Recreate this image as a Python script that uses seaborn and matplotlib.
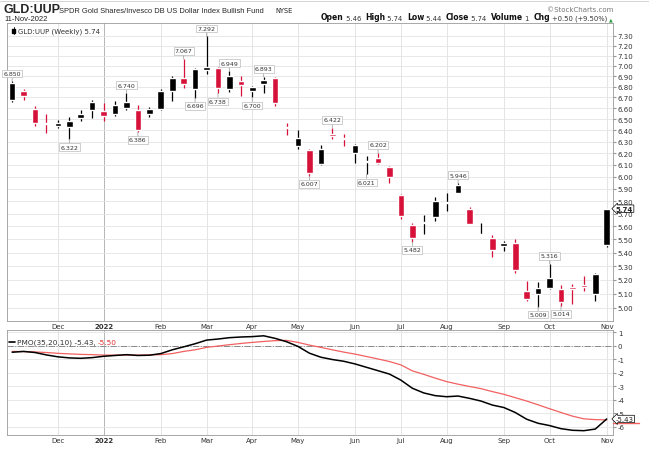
import numpy as np
import pandas as pd
import matplotlib
matplotlib.use('Agg')
import matplotlib.pyplot as plt
import matplotlib.transforms as mtransforms
import seaborn as sns
from matplotlib.ticker import FixedLocator, NullLocator, FuncFormatter

# weekly GLD:UUP ratio, Nov 2021 - Nov 2022
weeks = pd.date_range('2021-11-08', periods=53, freq='W-MON')

opens = [6.68, 6.76, 6.59, 6.465, 6.44, 6.43, 6.51, 6.58, 6.57, 6.55,
         6.60, 6.58, 6.55, 6.59, 6.76, 6.88, 6.78, 6.96, 6.98, 6.78,
         6.85, 6.76, 6.83, 6.88, 6.425, 6.26, 6.23, 6.11, 6.37, 6.325,
         6.20, 6.125, 6.16, 6.08, 5.85, 5.61, 5.625, 5.67, 5.785, 5.87,
         5.74, 5.535, 5.51, 5.45, 5.47, 5.12, 5.10, 5.14, 5.13, 5.15,
         5.16, 5.10, 5.46]
highs = [6.850, 6.78, 6.62, 6.55, 6.49, 6.52, 6.58, 6.68, 6.65, 6.67,
         6.740, 6.63, 6.61, 6.78, 6.90, 7.067, 6.98, 7.292, 6.99, 6.949,
         6.90, 6.81, 6.893, 6.89, 6.47, 6.40, 6.24, 6.27, 6.422, 6.37,
         6.28, 6.18, 6.202, 6.09, 5.86, 5.63, 5.69, 5.83, 5.87, 5.946,
         5.75, 5.63, 5.53, 5.49, 5.50, 5.19, 5.18, 5.316, 5.16, 5.17,
         5.23, 5.25, 5.74]
lows = [6.66, 6.68, 6.44, 6.38, 6.42, 6.322, 6.48, 6.51, 6.48, 6.53,
        6.58, 6.386, 6.52, 6.58, 6.67, 6.79, 6.696, 6.92, 6.738, 6.75,
        6.71, 6.700, 6.74, 6.62, 6.36, 6.24, 6.007, 6.10, 6.32, 6.26,
        6.12, 6.021, 6.11, 5.95, 5.66, 5.482, 5.54, 5.64, 5.72, 5.865,
        5.62, 5.53, 5.37, 5.41, 5.25, 5.05, 5.009, 5.13, 5.014, 5.03,
        5.12, 5.05, 5.44]
closes = [6.84, 6.71, 6.47, 6.455, 6.47, 6.48, 6.55, 6.66, 6.53, 6.63,
          6.66, 6.40, 6.59, 6.76, 6.88, 6.83, 6.97, 6.99, 6.79, 6.90,
          6.82, 6.80, 6.86, 6.65, 6.42, 6.33, 6.03, 6.24, 6.35, 6.32,
          6.27, 6.13, 6.12, 6.00, 5.68, 5.51, 5.63, 5.80, 5.79, 5.93,
          5.62, 5.54, 5.42, 5.47, 5.27, 5.06, 5.14, 5.21, 5.04, 5.13,
          5.145, 5.24, 5.74]

# PMO(35,20,10) and its signal line
pmo = [-0.48, -0.42, -0.50, -0.68, -0.82, -0.90, -0.93, -0.88, -0.78, -0.72,
       -0.66, -0.72, -0.70, -0.58, -0.30, -0.08, 0.15, 0.42, 0.50, 0.60,
       0.65, 0.68, 0.74, 0.55, 0.30, -0.05, -0.55, -0.85, -1.02, -1.15,
       -1.35, -1.60, -1.85, -2.10, -2.55, -3.15, -3.50, -3.70, -3.78, -3.73,
       -3.90, -4.10, -4.40, -4.58, -4.95, -5.45, -5.75, -5.92, -6.15, -6.27,
       -6.30, -6.18, -5.43]
signal = [-0.42, -0.43, -0.46, -0.50, -0.56, -0.60, -0.64, -0.66, -0.69, -0.69,
          -0.69, -0.69, -0.68, -0.66, -0.58, -0.42, -0.30, -0.12, -0.02, 0.08,
          0.17, 0.25, 0.32, 0.38, 0.40, 0.25, 0.05, -0.12, -0.30, -0.47,
          -0.62, -0.80, -0.98, -1.17, -1.42, -1.86, -2.12, -2.40, -2.66, -2.85,
          -3.02, -3.18, -3.40, -3.60, -3.85, -4.10, -4.38, -4.67, -4.95, -5.22,
          -5.42, -5.48, -5.50]

high_marks = [0, 10, 15, 17, 19, 22, 28, 32, 39, 47]
low_marks = [5, 11, 16, 18, 21, 26, 31, 35, 46, 48]
price_ticks = [round(5.0 + 0.1 * k, 2) for k in range(24)]
pmo_ticks = [1, 0, -1, -2, -3, -4, -5, -6]

RED = '#d7123a'
SIG = '#f26060'
GRID = '#e4e4e4'
TXT = '#333333'

sns.set_style('white')
plt.rcParams['font.family'] = ['DejaVu Sans']

df = pd.DataFrame({'week': weeks, 'open': opens, 'high': highs, 'low': lows,
                   'close': closes, 'pmo': pmo, 'signal': signal})
df['idx'] = np.arange(len(df))
df['color'] = np.where(df['close'] >= df['open'], 'black', RED)

# month boundaries -> gridlines and labels
month_pos, month_lab = [], []
for i in range(1, len(df)):
    w = df['week'][i]
    if w.month != df['week'][i - 1].month:
        month_pos.append(i)
        month_lab.append('2022' if w.month == 1 else w.strftime('%b'))

W, H = 649, 452
fig = plt.figure(figsize=(W / 100, H / 100), dpi=100)
L, R = 7, 613
ax1 = fig.add_axes([L / W, 1 - 322 / H, (R - L) / W, (322 - 24) / H])
ax2 = fig.add_axes([L / W, 1 - 436 / H, (R - L) / W, (436 - 331) / H])

for ax in (ax1, ax2):
    ax.set_xlim(-0.45, 52.55)
    for p, lab in zip(month_pos, month_lab):
        ax.axvline(p, color='#b5b5b5' if lab == '2022' else GRID, lw=0.7, zorder=0)
    ax.set_xticks(month_pos)
    ax.set_xticklabels(month_lab)
    for t in ax.get_xticklabels():
        if t.get_text() == '2022':
            t.set_fontweight('bold')
    ax.xaxis.set_minor_locator(FixedLocator(df['idx']))
    ax.tick_params(axis='x', which='major', length=0, pad=1.5, labelsize=5, labelcolor=TXT)
    ax.tick_params(axis='x', which='minor', length=1.5, direction='in', color='#999999')
    ax.yaxis.tick_right()
    ax.tick_params(axis='y', length=2, pad=1.5, labelsize=5, labelcolor=TXT, color='#999999')
    for s in ax.spines.values():
        s.set_color('#9a9a9a')
        s.set_linewidth(0.6)

# ---- price panel (candles)
ax1.set_yscale('log')
ax1.set_ylim(4.91, 7.43)
ax1.yaxis.set_major_locator(FixedLocator(price_ticks))
ax1.yaxis.set_minor_locator(NullLocator())
ax1.yaxis.set_major_formatter(FuncFormatter(lambda v, p: f'{v:.2f}'))
for v in price_ticks:
    ax1.axhline(v, color=GRID, lw=0.6, zorder=0)

ax1.vlines(df['idx'], df['low'], df['high'], colors=df['color'], lw=0.9, zorder=2)
body_lo = np.minimum(df['open'], df['close'])
body_h = np.maximum(np.abs(df['close'] - df['open']), 0.008)
ax1.bar(df['idx'], body_h, bottom=body_lo, width=0.58, color=df['color'], zorder=3)

box = dict(boxstyle='square,pad=0.2', fc='white', ec='#bbbbbb', lw=0.5)
arr = dict(arrowstyle='-', color='#999999', lw=0.5, shrinkA=0, shrinkB=0)
for i in high_marks:
    ax1.annotate(f'{highs[i]:.3f}', xy=(i, highs[i]), xytext=(0, 4), textcoords='offset points',
                 ha='center', va='bottom', fontsize=4.5, color=TXT, bbox=box, arrowprops=arr, zorder=5)
for i in low_marks:
    ax1.annotate(f'{lows[i]:.3f}', xy=(i, lows[i]), xytext=(0, -4), textcoords='offset points',
                 ha='center', va='top', fontsize=4.5, color=TXT, bbox=box, arrowprops=arr, zorder=5)

ax1.annotate(f'{closes[-1]:.2f}', xy=(1, closes[-1]), xycoords=('axes fraction', 'data'),
             xytext=(2, 0), textcoords='offset points', ha='left', va='center', fontsize=5,
             fontweight='bold', bbox=dict(boxstyle='larrow,pad=0.1', fc='white', ec='black', lw=0.5),
             annotation_clip=False, zorder=6)

ax1.plot([0.011, 0.011], [0.963, 0.985], transform=ax1.transAxes, color='black', lw=0.6)
ax1.add_patch(plt.Rectangle((0.008, 0.967), 0.006, 0.013, transform=ax1.transAxes, color='black'))
ax1.text(0.018, 0.975, f'GLD:UUP (Weekly) {closes[-1]:.2f}', transform=ax1.transAxes,
         fontsize=5, color=TXT, va='center', ha='left')

# ---- PMO panel
ax2.set_ylim(-6.62, 1.17)
ax2.set_yticks(pmo_ticks)
ax2.set_yticklabels([str(v) for v in pmo_ticks])
for v in pmo_ticks:
    ax2.axhline(v, color=GRID, lw=0.6, zorder=0)
ax2.axhline(0, color='#8a8a8a', lw=0.7, ls='-.', zorder=1)
sns.lineplot(data=df, x='idx', y='signal', ax=ax2, color=SIG, lw=0.9, zorder=3)
sns.lineplot(data=df, x='idx', y='pmo', ax=ax2, color='black', lw=1.1, zorder=4)
ax2.set_xlabel('')
ax2.set_ylabel('')

# signal value tag peeks out under the PMO tag as a red underline
blend = mtransforms.blended_transform_factory(ax2.transAxes, ax2.transData)
ax2.plot([1.0, 1.043], [signal[-1] - 0.22, signal[-1] - 0.22], transform=blend,
         color=SIG, lw=1.0, clip_on=False, zorder=5)
ax2.annotate(f'{pmo[-1]:.2f}', xy=(1, pmo[-1]), xycoords=('axes fraction', 'data'),
             xytext=(2, 0), textcoords='offset points', ha='left', va='center', fontsize=5,
             bbox=dict(boxstyle='larrow,pad=0.1', fc='white', ec='black', lw=0.5),
             annotation_clip=False, zorder=6)

ax2.plot([0.003, 0.013], [0.89, 0.89], transform=ax2.transAxes, color='black', lw=1.2)
t = ax2.text(0.016, 0.89, f'PMO(35,20,10) {pmo[-1]:.2f}, ', transform=ax2.transAxes,
             fontsize=5.3, color=TXT, va='center', ha='left')
ax2.annotate(f'{signal[-1]:.2f}', xy=(1, 0), xycoords=t, ha='left', va='bottom',
             fontsize=5.3, color='#e03030')

# ---- header
hdr = fig.add_axes([0, 0, 1, 1], zorder=-1)
hdr.axis('off')
hdr.set_xlim(0, W)
hdr.set_ylim(H, 0)
hdr.axhline(2, xmin=0, xmax=1, color='#cccccc', lw=0.6)
narrow = ['Liberation Sans Narrow', 'Liberation Sans', 'DejaVu Sans']
hdr.text(4, 13, 'GLD:UUP', fontsize=9, fontweight='bold', family=narrow, va='baseline')
hdr.text(59, 13, 'SPDR Gold Shares/Invesco DB US Dollar Index Bullish Fund', fontsize=5.4,
         family=narrow, va='baseline')
hdr.text(275, 13, 'NYSE', fontsize=4.8, va='baseline', color='#222222')
hdr.text(4, 21, '11-Nov-2022', fontsize=5.5, family=['Liberation Sans'], va='baseline', color='#222222')
hdr.text(613, 12, '\u00a9StockCharts.com', fontsize=5, ha='right', va='baseline', color='#777777')

pieces = [('Open', True), (' 5.46  ', False), ('High', True), (' 5.74  ', False),
          ('Low', True), (' 5.44  ', False), ('Close', True), (' 5.74  ', False),
          ('Volume', True), (' 1  ', False), ('Chg', True), (' +0.50 (+9.50%) ', False)]
t = hdr.text(613, 21, '\u25b2', fontsize=3.5, color='#2e9e3e', ha='right', va='baseline')
for s, bold in reversed(pieces):
    t = hdr.annotate(s, xy=(0, 0), xycoords=t, ha='right', va='bottom',
                     fontsize=5.5 if bold else 4.9, fontweight='bold' if bold else 'normal',
                     color='#111111' if bold else '#333333')

fig.savefig('out.png', dpi=100)
